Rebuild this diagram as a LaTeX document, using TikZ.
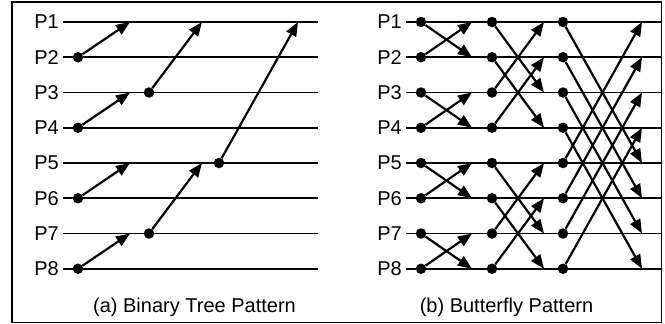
\documentclass[tikz,border=0pt]{standalone}
\usepackage{fontspec}
\setmainfont{Liberation Sans}
\usetikzlibrary{arrows.meta}
\begin{document}
\begin{tikzpicture}[x=1pt,y=-1pt,
  lab/.style={anchor=east,inner sep=0pt,font=\fontsize{20}{24}\selectfont},
  captext/.style={inner sep=0pt,font=\fontsize{20}{24}\selectfont},
  wire/.style={line width=1.7pt},
  dot/.style={circle,fill,inner sep=0pt,minimum size=10.5pt},
  msg/.style={line width=2.2pt,-{Triangle[length=14pt,width=11pt]}},
  frame/.style={line width=1.6pt}]
\useasboundingbox (0,0) rectangle (665,324);
\draw[frame] (12,2) rectangle (661.5,322.5);

% process rows for both panels
\foreach \i in {1,...,8} {
  \pgfmathsetmacro\yy{22+35.25*(\i-1)}
  \node[lab] (a\i) at (59,\yy) {P\i};
  \coordinate (as\i) at (63,\yy);
  \coordinate (ae\i) at (318,\yy);
  \draw[wire] (as\i) -- (ae\i);
  \node[lab] (b\i) at (402,\yy) {P\i};
  \coordinate (bs\i) at (406,\yy);
  \coordinate (be\i) at (662,\yy);
  \draw[wire] (bs\i) -- (be\i);
}

% (a) binary tree reduction
\foreach \i/\x in {2/78,4/78,6/78,8/78,3/149,7/149,5/219}
  \node[dot] (ad\i) at (\x,{22+35.25*(\i-1)}) {};
\foreach \i/\x in {1/130,3/130,5/130,7/130}
  \coordinate (at\i) at (\x,{22+35.25*(\i-1)});
\coordinate (au1) at (202,22);
\coordinate (au5) at (202,{22+35.25*4});
\coordinate (av1) at (298,22);
\draw[msg] (ad2) -- (at1);
\draw[msg] (ad4) -- (at3);
\draw[msg] (ad6) -- (at5);
\draw[msg] (ad8) -- (at7);
\draw[msg] (ad3) -- (au1);
\draw[msg] (ad7) -- (au5);
\draw[msg] (ad5) -- (av1);

% (b) butterfly exchange, three stages
\foreach \s/\d/\x/\t in {1/1/421/472,2/2/492/544,3/4/563/642} {
  \foreach \i in {1,...,8} {
    \pgfmathsetmacro\yy{22+35.25*(\i-1)}
    \node[dot] (bd\s\i) at (\x,\yy) {};
    \coordinate (bt\s\i) at (\t,\yy);
  }
  \foreach \i in {1,...,8} {
    \pgfmathtruncatemacro\j{mod(floor((\i-1)/\d),2)==0 ? \i+\d : \i-\d}
    \draw[msg] (bd\s\i) -- (bt\s\j);
  }
}

\node[captext] (capa) at (194.5,307) {(a) Binary Tree Pattern};
\node[captext] (capb) at (506.5,307) {(b) Butterfly Pattern};
\end{tikzpicture}
\end{document}
